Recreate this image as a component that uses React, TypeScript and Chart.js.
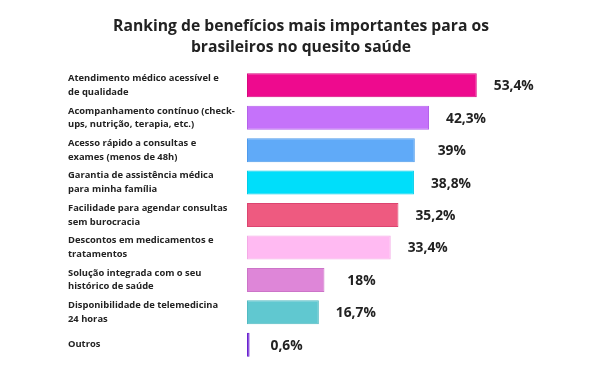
import React, { useEffect, useRef } from "react";
import { Chart, registerables } from "chart.js";

Chart.register(...registerables);

const titleLines = ["Ranking de benefícios mais importantes para os", "brasileiros no quesito saúde"];
const categories: string[][] = [
  ["Atendimento médico acessível e", "de qualidade"],
  ["Acompanhamento contínuo (check-", "ups, nutrição, terapia, etc.)"],
  ["Acesso rápido a consultas e", "exames (menos de 48h)"],
  ["Garantia de assistência médica", "para minha família"],
  ["Facilidade para agendar consultas", "sem burocracia"],
  ["Descontos em medicamentos e", "tratamentos"],
  ["Solução integrada com o seu", "histórico de saúde"],
  ["Disponibilidade de telemedicina", "24 horas"],
  ["Outros"],
];
const values = [53.4, 42.3, 39, 38.8, 35.2, 33.4, 18, 16.7, 0.6];
const valueLabels = ["53,4%", "42,3%", "39%", "38,8%", "35,2%", "33,4%", "18%", "16,7%", "0,6%"];
const barColors = ["#EE0A8E", "#C572FA", "#60AAF8", "#00DEFA", "#EE5A80", "#FFBAF2", "#DE86D8", "#60C8D0", "#6A22D0"];
const borderColors = ["#D8087E", "#B462EA", "#4E9AEC", "#00CDE8", "#DC4470", "#F4AAE6", "#CC74C8", "#52BAC2", "#6A22D0"];

const valueLabelPlugin = {
  id: "valueLabels",
  afterDatasetsDraw(chart: any) {
    const ctx = chart.ctx;
    const meta = chart.getDatasetMeta(0);
    ctx.save();
    ctx.font = "700 13.8px 'Open Sans'";
    ctx.fillStyle = "#222222";
    ctx.textAlign = "center";
    ctx.textBaseline = "middle";
    meta.data.forEach((bar: any, i: number) => {
      ctx.fillText(valueLabels[i], bar.x + 37, bar.y + 1);
    });
    ctx.restore();
  },
};

export default function App() {
  const ref = useRef<HTMLCanvasElement>(null);
  useEffect(() => {
    if (!ref.current) return;
    const chart = new Chart(ref.current, {
      type: "bar",
      data: {
        labels: categories,
        datasets: [
          {
            data: values,
            backgroundColor: barColors,
            borderColor: borderColors,
            borderWidth: 1,
            borderSkipped: false,
            barPercentage: 0.74,
            categoryPercentage: 1,
          },
        ],
      },
      options: {
        indexAxis: "y",
        animation: false,
        responsive: false,
        maintainAspectRatio: false,
        layout: { padding: { left: 68, right: 68, top: 0, bottom: 4 } },
        plugins: {
          legend: { display: false },
          tooltip: { enabled: false },
          title: {
            display: true,
            text: titleLines,
            color: "#222222",
            font: { family: "'Open Sans'", weight: "700" as any, size: 15.7, lineHeight: 1.34 },
            padding: { top: 16, bottom: 11 },
          },
        },
        scales: {
          x: { display: false, min: 0, max: 66.7 },
          y: {
            grid: { display: false },
            border: { display: false },
            afterFit(scale: any) {
              scale.width = 179;
              scale.paddingTop = 0;
              scale.paddingBottom = 0;
            },
            ticks: {
              crossAlign: "far",
              color: "#222222",
              font: { family: "'Open Sans'", weight: "700" as any, size: 9.4, lineHeight: 1.45 },
              padding: 0,
            },
          },
        },
      },
      plugins: [valueLabelPlugin],
    });
    return () => chart.destroy();
  }, []);
  return (
    <div style={{ position: "absolute", left: 0, top: 0, width: 602, height: 365, background: "#fff" }}>
      <canvas ref={ref} width={602} height={365} />
    </div>
  );
}
